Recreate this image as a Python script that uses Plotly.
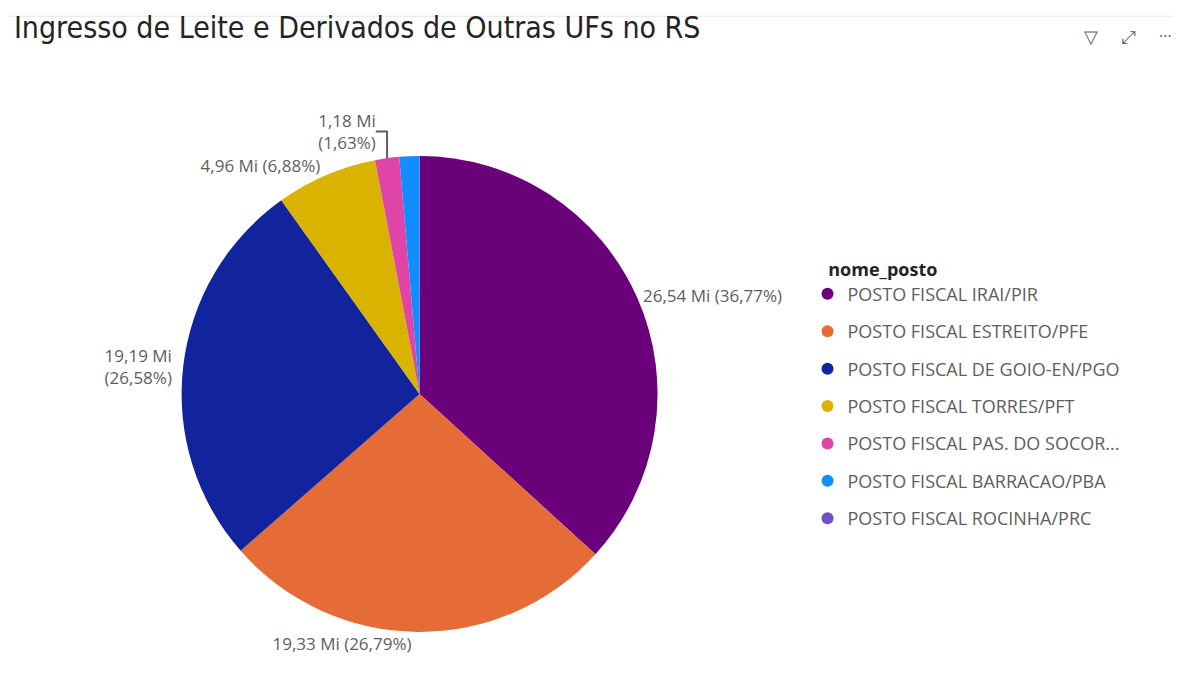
import plotly.graph_objects as go

postos = ["POSTO FISCAL IRAI/PIR", "POSTO FISCAL ESTREITO/PFE", "POSTO FISCAL DE GOIO-EN/PGO",
          "POSTO FISCAL TORRES/PFT", "POSTO FISCAL PAS. DO SOCOR...", "POSTO FISCAL BARRACAO/PBA",
          "POSTO FISCAL ROCINHA/PRC"]
valores_mi = [26.54, 19.33, 19.19, 4.96, 1.18, 0.98, 0.005]
rotulos = ["26,54 Mi (36,77%)", "19,33 Mi (26,79%)", "19,19 Mi<br>(26,58%)", "4,96 Mi (6,88%)",
           "1,18 Mi<br>(1,63%)", "", ""]
cores = ["#6B007B", "#E66C37", "#12239E", "#D9B300", "#E044A7", "#118DFF", "#744EC2"]

fig = go.Figure()
fig.add_trace(go.Pie(
    labels=postos, values=valores_mi, sort=False, direction="clockwise", rotation=0,
    marker=dict(colors=cores, line=dict(width=0)),
    text=rotulos, textinfo="text", textposition="outside",
    textfont=dict(family="Open Sans, Noto Sans, sans-serif", size=17, color="#605E5C"),
    showlegend=False, hoverinfo="label+value",
    domain=dict(x=[0.147, 0.55], y=[0.093, 0.785]),
))
for i, (p, c) in enumerate(zip(postos, cores)):
    fig.add_trace(go.Scatter(x=[None], y=[None], mode="markers", name=p,
                             marker=dict(color=c, size=12, symbol="circle"),
                             legendgroup=f"g{i}", showlegend=True))

fig.update_layout(
    width=1181, height=688, paper_bgcolor="white", plot_bgcolor="white",
    margin=dict(l=0, r=0, t=0, b=0),
    xaxis=dict(visible=False), yaxis=dict(visible=False),
    title=dict(text="Ingresso de Leite e Derivados de Outras UFs no RS", x=0.005, xanchor="left",
               y=0.972, yanchor="middle",
               font=dict(family="DejaVu Sans Condensed, Liberation Sans Narrow, sans-serif", size=30, color="#252423")),
    legend=dict(x=0.677, y=0.645, xanchor="left", yanchor="top", tracegroupgap=11,
                title=dict(text="&nbsp;&nbsp;&nbsp;&nbsp;<b>nome_posto</b>",
                           font=dict(family="Open Sans, Noto Sans, sans-serif", size=18, color="#252423")),
                font=dict(family="Open Sans, Noto Sans, sans-serif", size=18, color="#605E5C"),
                itemwidth=30),
    showlegend=True,
)
fig.add_shape(type="line", xref="paper", yref="paper", x0=0, x1=1, y0=0.988, y1=0.988,
              line=dict(color="#E6E6E6", width=1))
fig.add_annotation(text="▽", xref="paper", yref="paper", x=0.925, y=0.959, yanchor="middle",
                   showarrow=False, font=dict(size=18, color="#605E5C"))
fig.add_annotation(text="⤢", xref="paper", yref="paper", x=0.957, y=0.959, yanchor="middle",
                   showarrow=False, font=dict(size=18, color="#605E5C"))
fig.add_annotation(text="···", xref="paper", yref="paper", x=0.987, y=0.959, yanchor="middle",
                   showarrow=False, font=dict(size=16, color="#605E5C"))
fig.write_html("out.html")
